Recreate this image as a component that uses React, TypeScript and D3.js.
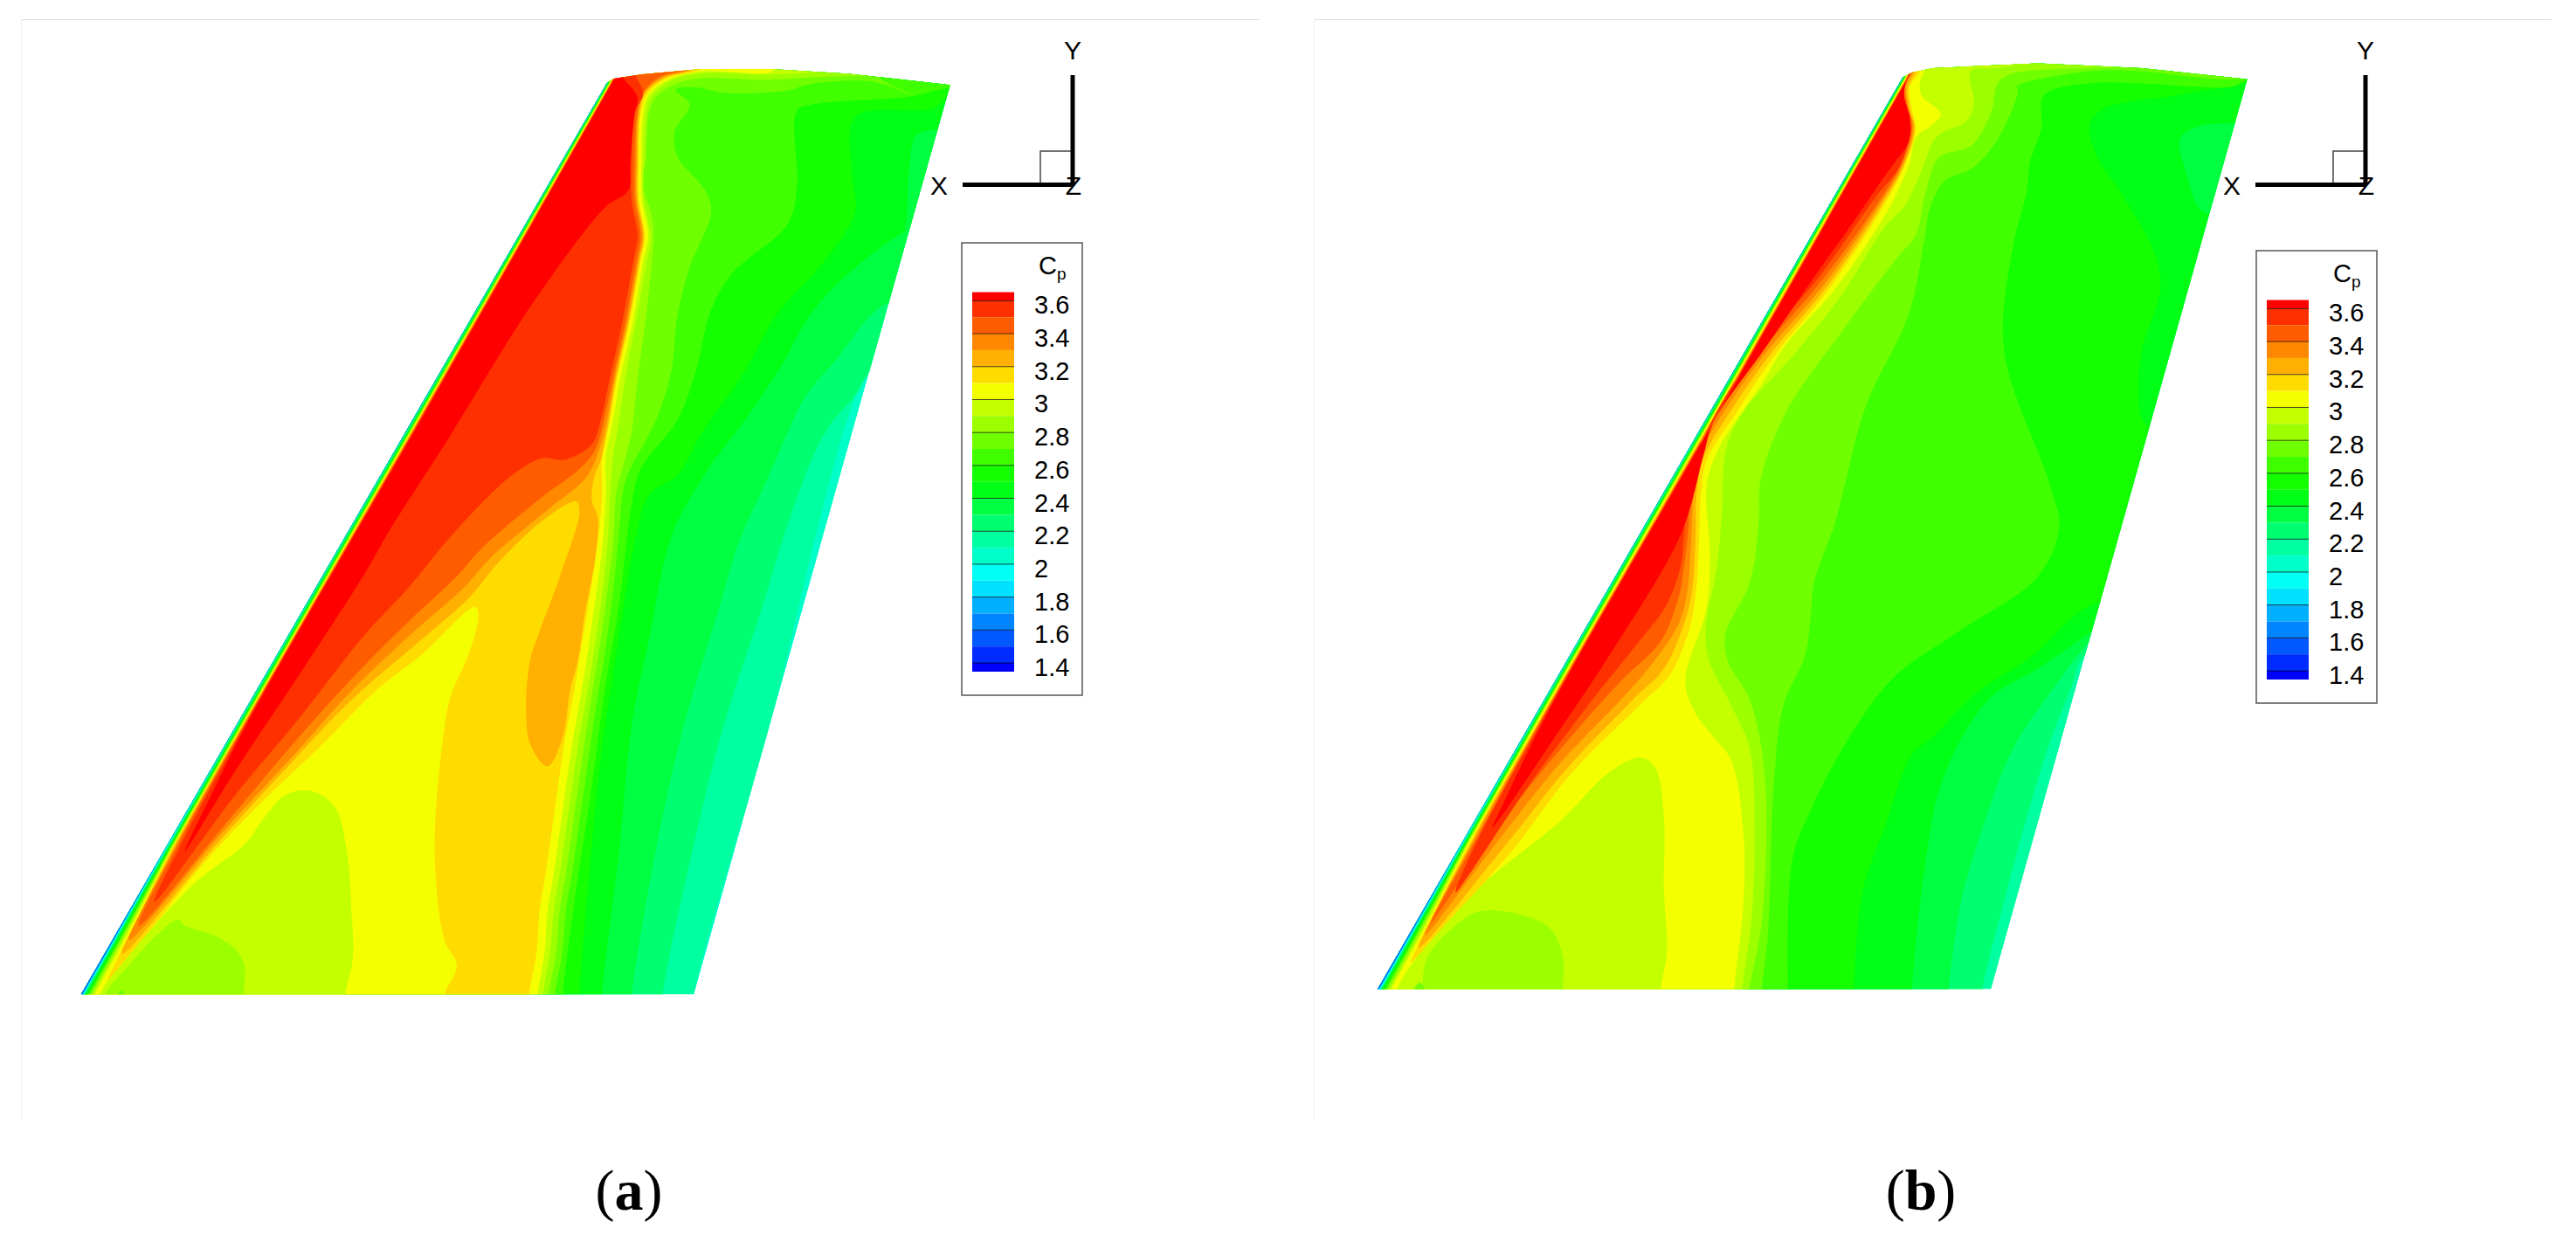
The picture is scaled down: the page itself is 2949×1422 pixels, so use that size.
import React from 'react'
import * as d3 from 'd3'

type Pt = [number, number]

// Cp legend, top to bottom
const legendLevels = [3.6, 3.5, 3.4, 3.3, 3.2, 3.1, 3.0, 2.9, 2.8, 2.7, 2.6, 2.5, 2.4, 2.3, 2.2, 2.1, 2.0, 1.9, 1.8, 1.7, 1.6, 1.5, 1.4]
const legendLabels = ['3.6', '3.4', '3.2', '3', '2.8', '2.6', '2.4', '2.2', '2', '1.8', '1.6', '1.4']
const bandColors = ['#ff0000', '#ff3000', '#ff5c00', '#ff8800', '#ffb000', '#ffdc00', '#f4ff00', '#c4ff00', '#9cff00', '#70ff00', '#40ff00', '#14ff00',
  '#00ff14', '#00ff40', '#00ff70', '#00ffa0', '#00ffc8', '#00fff4', '#00e0ff', '#00b0ff', '#0084ff', '#0058ff', '#002cff', '#0000ff']

const cpColor = d3.scaleThreshold<number, string>()
  .domain([...legendLevels].reverse())
  .range([...bandColors].reverse())

// Wing outlines, surface coordinates (0..1568 on both axes)
const wingA: Pt[] = [[47, 1537], [905, 50], [915, 43], [960, 36], [1060, 27], [1170, 27], [1300, 35], [1465, 53], [1047, 1537]]
const wingB: Pt[] = [[53, 1543], [910, 55], [925, 47], [960, 40], [1130, 32], [1300, 40], [1472, 58], [1054, 1543]]

const far: Pt[] = [[1700, -100], [-100, -100], [-100, 1700], [600, 1700]]
const up = (p: Pt[]): Pt[] => [...p, ...far]

// Panel (a): contours Cp = level, region on the leading edge side
const a21 = up([[1047, 1560], [1047, 1537], [1170, 1100], [1200, 980], [1245, 790], [1300, 590], [1330, 520], [1400, 450]])
const a22 = up([[996, 1560], [996, 1537], [1045, 1300], [1095, 1100], [1160, 900], [1190, 800], [1225, 700], [1250, 640], [1275, 600], [1310, 560], [1335, 520], [1400, 470]])
const a23 = up([[946, 1560], [946, 1537], [985, 1300], [1030, 1100], [1090, 900], [1120, 800], [1165, 700], [1200, 620], [1230, 560], [1280, 500], [1345, 420], [1420, 380]])
const a24 = up([[897, 1560], [897, 1537], [925, 1300], [945, 1100], [975, 950], [1010, 790], [1070, 680], [1130, 600], [1190, 510], [1235, 430], [1300, 360], [1395, 290], [1500, 250]])
const aTipPocket: Pt[] = [[1445, 125], [1410, 135], [1400, 170], [1395, 260], [1395, 300], [1500, 300], [1500, 125]]
const a25 = up([[860, 1560], [860, 1537], [875, 1350], [895, 1150], [925, 950], [950, 800], [975, 720], [1020, 690], [1060, 620], [1130, 520], [1180, 430], [1260, 340], [1310, 260], [1305, 200], [1310, 105], [1440, 90], [1475, 60], [1600, 50]])
const a26 = up([[833, 1560], [833, 1537], [850, 1400], [880, 1200], [900, 1050], [925, 900], [945, 740], [960, 680], [1020, 600], [1050, 520], [1075, 420], [1110, 360], [1200, 280], [1215, 220], [1215, 95], [1240, 85], [1400, 72], [1460, 58], [1600, 40]])
const a27 = up([[820, 1560], [820, 1537], [832, 1470], [838, 1400], [848, 1340], [865, 1220], [878, 1130], [890, 1050], [900, 990], [915, 880], [925, 780], [935, 700], [985, 600], [1010, 520], [1020, 430], [1040, 350], [1075, 260], [1065, 225], [1020, 170], [1015, 130], [1040, 85], [1017, 61], [1050, 57], [1098, 66], [1200, 62], [1235, 52], [1340, 48], [1405, 70], [1350, 40], [1500, 30]])
const a28 = up([[810, 1560], [810, 1537], [822, 1470], [828, 1400], [838, 1340], [855, 1220], [868, 1130], [880, 1050], [890, 990], [903, 900], [915, 800], [920, 720], [930, 680], [945, 620], [955, 530], [970, 420], [980, 280], [962, 210], [968, 180], [973, 100], [985, 72], [1015, 52], [1060, 42], [1170, 45], [1250, 40], [1400, 35], [1500, 20]])
const a29 = up([[801, 1560], [801, 1537], [812, 1470], [818, 1400], [828, 1340], [845, 1220], [858, 1130], [872, 1050], [882, 990], [895, 900], [906, 800], [910, 720], [915, 660], [925, 600], [935, 530], [952, 440], [970, 340], [976, 300], [965, 240], [965, 180], [969, 100], [977, 72], [1008, 47], [1060, 34], [1170, 36], [1250, 32], [1400, 20]])
const a30 = up([[792, 1560], [792, 1537], [803, 1470], [808, 1400], [818, 1340], [835, 1220], [848, 1130], [862, 1050], [872, 990], [885, 900], [898, 800], [903, 720], [903, 660], [915, 600], [927, 530], [947, 440], [964, 340], [972, 300], [962, 240], [961, 180], [964, 100], [973, 70], [1004, 45], [1060, 31], [1170, 33], [1190, 20], [1300, 10]])
const a31 = up([[778, 1560], [778, 1537], [790, 1470], [795, 1400], [805, 1340], [822, 1220], [835, 1130], [850, 1050], [860, 990], [875, 900], [890, 800], [897, 720], [897, 660], [910, 600], [922, 530], [942, 440], [960, 340], [967, 300], [957, 240], [957, 180], [960, 100], [971, 68], [1001, 43], [1055, 29], [1080, 15]])
// pockets of lower Cp downstream of the ridge
const aYellow: Pt[] = [[60, 1560], [60, 1537], [95, 1510], [250, 1320], [340, 1225], [440, 1130], [530, 1040], [600, 985], [690, 905], [695, 920], [680, 980], [650, 1050], [640, 1100], [625, 1250], [625, 1340], [640, 1450], [660, 1490], [640, 1537], [640, 1560]]
const aLime: Pt[] = [[78, 1560], [78, 1537], [120, 1480], [232, 1356], [314, 1292], [345, 1250], [380, 1212], [420, 1205], [460, 1230], [480, 1300], [488, 1400], [490, 1480], [478, 1537], [478, 1560]]
const aGreen: Pt[] = [[86, 1560], [86, 1537], [123, 1492], [171, 1440], [205, 1415], [216, 1425], [266, 1442], [300, 1465], [313, 1490], [312, 1537], [312, 1560]]
const aSpot: Pt[] = [[105, 1545], [112, 1530], [120, 1545]]
// ridge bands, root tip > shock side > wing tip > leading edge side
const a32: Pt[] = [[114, 1471], [270, 1290], [380, 1170], [490, 1055], [600, 960], [680, 890], [730, 830], [805, 760], [855, 733], [860, 750], [830, 850], [795, 945], [780, 990], [773, 1070], [780, 1130], [808, 1165], [832, 1120], [845, 1040], [858, 990], [868, 920], [885, 830], [890, 760], [880, 730], [885, 690], [895, 665], [908, 600], [920, 530], [940, 440], [958, 340], [965, 300], [955, 240], [955, 180], [958, 100], [968, 66], [998, 42], [1050, 27], [1075, 10], [928, 20], [911, 50], [597, 600], [309.6, 1100], [196.5, 1300]]
const a33: Pt[] = [[125, 1449], [280, 1270], [400, 1140], [490, 1040], [590, 945], [670, 875], [720, 820], [810, 745], [870, 695], [890, 655], [905, 600], [918, 530], [938, 440], [956, 340], [963, 300], [953, 240], [953, 180], [956, 100], [966, 66], [995, 41], [1045, 27], [1070, 10], [928.5, 20], [911.5, 50], [598, 600], [310.6, 1100], [199, 1300]]
const a34: Pt[] = [[141, 1425], [290, 1250], [400, 1120], [500, 1010], [580, 930], [660, 855], [700, 810], [800, 725], [860, 680], [885, 650], [900, 600], [915, 530], [935, 440], [953, 340], [960, 300], [950, 240], [950, 180], [954, 100], [964, 66], [990, 40], [1040, 27], [1060, 10], [929, 20], [912, 50], [599, 600], [311.6, 1100], [201, 1300]]
const a35: Pt[] = [[166, 1387], [300, 1210], [400, 1090], [510, 950], [580, 875], [650, 790], [750, 690], [800, 662], [835, 665], [880, 640], [895, 600], [910, 530], [930, 440], [950, 330], [955, 300], [945, 240], [945, 180], [950, 100], [964, 67], [952, 38], [945, 20], [929.5, 20], [912.5, 50], [600, 600], [313, 1100], [206, 1300]]
const a36: Pt[] = [[216, 1304], [300, 1170], [400, 1020], [510, 850], [550, 780], [640, 640], [770, 430], [870, 290], [905, 250], [940, 225], [943, 180], [950, 100], [955, 75], [948, 61], [931, 40], [930, 20], [913, 50], [601, 600], [315, 1100], [265, 1200]]

// Panel (b)
const b21: Pt[] = up([[1054, 1560], [1054, 1543], [1150, 1200], [1400, 300]])
const b22 = up([[1040, 1560], [1040, 1543], [1075, 1400], [1110, 1270], [1150, 1140], [1185, 1050], [1205, 1000], [1300, 950], [1500, 900]])
const b23 = up([[985, 1560], [985, 1543], [1005, 1400], [1040, 1280], [1090, 1150], [1150, 1060], [1215, 975], [1300, 900], [1500, 850]])
const b24 = up([[925, 1560], [925, 1543], [945, 1350], [975, 1200], [1050, 1070], [1130, 1020], [1210, 965], [1300, 900], [1500, 850]])
const bTipPocket: Pt[] = [[1450, 130], [1390, 135], [1362, 155], [1372, 210], [1395, 270], [1420, 280], [1480, 280], [1480, 130]]
const b25 = up([[830, 1560], [830, 1543], [845, 1380], [880, 1280], [925, 1160], [960, 1130], [1030, 1060], [1120, 1000], [1220, 915], [1400, 900], [1400, 640], [1305, 620], [1295, 560], [1300, 500], [1330, 400], [1320, 340], [1270, 250], [1225, 180], [1215, 130], [1240, 105], [1350, 85], [1440, 70], [1460, 65], [1600, 50]])
const b26 = up([[722, 1560], [722, 1543], [730, 1330], [760, 1250], [830, 1120], [900, 1030], [1000, 960], [1130, 870], [1165, 790], [1150, 720], [1075, 500], [1090, 330], [1112, 242], [1117, 195], [1136, 138], [1140, 85], [1210, 65], [1300, 65], [1380, 70], [1450, 70], [1470, 60], [1600, 40]])
const b27 = up([[680, 1560], [680, 1543], [690, 1450], [700, 1200], [715, 1080], [750, 1000], [760, 930], [765, 880], [800, 780], [815, 720], [850, 590], [920, 440], [945, 320], [955, 266], [979, 223], [1022, 204], [1064, 157], [1098, 76], [1095, 70], [1215, 45], [1300, 45], [1450, 58], [1600, 30]])
const b28 = up([[660, 1560], [660, 1543], [680, 1430], [685, 1200], [660, 1070], [625, 1010], [620, 965], [660, 880], [675, 780], [678, 710], [720, 600], [810, 470], [900, 350], [931, 313], [946, 247], [965, 190], [979, 180], [1022, 166], [1055, 109], [1064, 66], [1085, 50], [1215, 40], [1300, 38], [1500, 20]])
const b29 = up([[648, 1560], [648, 1543], [663, 1430], [668, 1280], [660, 1150], [630, 1080], [595, 1010], [588, 960], [607, 850], [615, 760], [622, 660], [650, 600], [730, 510], [810, 410], [880, 300], [912, 266], [936, 218], [960, 159], [974, 145], [1012, 128], [1026, 100], [1021, 45], [1060, 40], [1200, 25], [1500, 10]])
const b30 = up([[635, 1560], [635, 1543], [650, 1400], [650, 1290], [630, 1170], [600, 1130], [570, 1090], [555, 1040], [590, 920], [595, 830], [590, 720], [610, 660], [680, 555], [720, 490], [800, 400], [884, 275], [903, 238], [921, 195], [932, 152], [960, 131], [972, 114], [941, 85], [938, 62], [945, 45], [960, 10]])
const bLime: Pt[] = [[85, 1560], [85, 1543], [110, 1500], [215, 1380], [350, 1270], [430, 1190], [480, 1165], [505, 1180], [520, 1260], [520, 1380], [525, 1480], [515, 1543], [515, 1560]]
const bGreen: Pt[] = [[125, 1560], [125, 1543], [135, 1490], [185, 1435], [225, 1415], [330, 1440], [355, 1490], [355, 1543], [355, 1560]]
const bSpot: Pt[] = [[110, 1550], [122, 1532], [130, 1550]]
const b31: Pt[] = [[105, 1500], [170, 1430], [270, 1320], [370, 1190], [480, 1080], [530, 1030], [560, 960], [572, 900], [578, 800], [580, 740], [590, 680], [640, 600], [700, 510], [790, 400], [884, 256], [915, 195], [931, 138], [924, 104], [921, 71], [935, 50], [950, 20], [936, 20], [919, 50], [605.5, 600], [319, 1100], [206, 1300]]
const b32: Pt[] = [[120, 1475], [260, 1310], [360, 1185], [470, 1070], [520, 1020], [550, 955], [565, 900], [572, 800], [573, 740], [585, 675], [632, 595], [695, 505], [785, 398], [880, 256], [913, 195], [929, 138], [921, 104], [918, 71], [930, 48], [945, 20], [936.5, 20], [919.5, 50], [606.5, 600], [320, 1100], [208, 1300]]
const b33: Pt[] = [[130, 1455], [250, 1300], [350, 1175], [460, 1060], [510, 1000], [545, 945], [558, 895], [565, 800], [568, 740], [580, 670], [625, 590], [690, 500], [780, 395], [876, 256], [911, 195], [927, 135], [919, 104], [915, 71], [927, 47], [942, 20], [937, 20], [920, 50], [607.5, 600], [321, 1100], [210, 1300]]
const b34: Pt[] = [[140, 1435], [240, 1290], [340, 1165], [450, 1040], [515, 975], [545, 900], [552, 860], [560, 790], [563, 740], [575, 665], [620, 585], [685, 495], [775, 390], [872, 256], [908, 195], [925, 135], [917, 104], [913, 71], [924, 46], [940, 20], [937.5, 20], [920.5, 50], [608.5, 600], [322, 1100], [213, 1300]]
const b35: Pt[] = [[180, 1385], [300, 1210], [400, 1075], [480, 975], [525, 915], [548, 850], [552, 810], [560, 740], [570, 680], [615, 585], [680, 490], [770, 385], [866, 250], [903, 204], [917, 166], [923, 140], [915, 104], [911, 71], [920, 48], [938, 20], [921, 50], [609.5, 600], [324, 1100], [216, 1300]]
const b36: Pt[] = [[240, 1280], [350, 1120], [430, 1000], [548, 800], [585, 670], [600, 620], [690, 490], [780, 360], [830, 290], [884, 211], [898, 192], [917, 166], [922, 147], [921, 118], [912, 85], [916, 60], [938.5, 20], [921.5, 50], [610.5, 600], [326, 1100], [258, 1240]]

// Leading edge strip: distance from the edge of each Cp level, at these span stations
const leStations = [20, 600, 1100, 1300, 1450, 1560]
const leLevels = [3.0, 2.9, 2.8, 2.7, 2.6, 2.5, 2.4, 2.3, 2.2, 2.1, 2.0, 1.9, 1.8, 1.7, 1.6, 1.5]
const leOffsets = [
  [5, 8.5, 9.5, 11.5, 23, 33],
  [4.5, 7.8, 8.8, 10.5, 19, 23],
  [4, 7, 8, 9.5, 17, 20],
  [3.5, 6.5, 7.2, 8.5, 14, 17],
  [3, 6, 6.5, 7.7, 12, 14],
  [2.5, 5, 5.7, 7, 11, 12],
  [2, 4.5, 5, 6, 9, 10],
  [1.5, 3.5, 4, 5, 7, 8],
  [1, 2.5, 3, 4, 6, 7],
  [0.5, 1.5, 2, 3, 5, 6],
  [0, 0.5, 1, 2, 4, 5],
  [0, 0, 0, 1.2, 3, 4],
  [0, 0, 0, 0.6, 2.5, 3],
  [0, 0, 0, 0, 2, 2.5],
  [0, 0, 0, 0, 1.5, 2],
  [0, 0, 0, 0, 1, 1.5],
]

const layersA: [number, Pt[]][] = [[2.1, a21], [2.2, a22], [2.3, a23], [2.4, a24], [2.3, aTipPocket], [2.5, a25], [2.6, a26], [2.7, a27], [2.8, a28], [2.9, a29], [3.0, a30], [3.1, a31],
  [3.0, aYellow], [2.9, aLime], [2.8, aGreen], [2.7, aSpot], [3.2, a32], [3.3, a33], [3.4, a34], [3.5, a35], [3.6, a36]]
const layersB: [number, Pt[]][] = [[2.2, b22], [2.3, b23], [2.4, b24], [2.5, b25], [2.3, bTipPocket], [2.6, b26], [2.7, b27], [2.8, b28], [2.9, b29], [3.0, b30],
  [2.9, bLime], [2.8, bGreen], [2.7, bSpot], [3.1, b31], [3.2, b32], [3.3, b33], [3.4, b34], [3.5, b35], [3.6, b36]]

const smooth = d3.line().curve(d3.curveCatmullRomClosed.alpha(0.5))
const sans = '"Liberation Sans", Arial, sans-serif'

function Wing({ id, wing, layers, base, x0, y0 }: { id: string; wing: Pt[]; layers: [number, Pt[]][]; base: number; x0: number; y0: number }) {
  const x = d3.scaleLinear().domain([0, 1568]).range([x0, x0 + 1100])
  const y = d3.scaleLinear().domain([0, 1568]).range([y0, y0 + 1100])
  const place = (p: Pt[]) => p.map(([u, v]) => [x(u), y(v)] as Pt)
  // leading edge as a line through the root and tip corners
  const leX = d3.scaleLinear().domain([wing[0][1], wing[1][1]]).range([wing[0][0], wing[1][0]])
  const strip = (offs: number[]): Pt[] => [
    ...leStations.map((s, i) => [leX(s) + offs[i], s] as Pt).reverse(),
    ...leStations.map((s) => [leX(s) - 40, s] as Pt),
  ]
  return (
    <g>
      <clipPath id={id}>
        <path d={d3.line()(place(wing)) + 'Z'} />
      </clipPath>
      <g clipPath={`url(#${id})`}>
        <path d={d3.line()(place(wing)) + 'Z'} fill={cpColor(base + 0.01)} />
        {layers.map(([level, pts], i) => (
          <path key={i} d={smooth(place(pts)) || ''} fill={cpColor(level + 0.01)} />
        ))}
        {leLevels.map((level, i) => (
          <path key={level} d={d3.line()(place(strip(leOffsets[i]))) + 'Z'} fill={cpColor(level + 0.01)} />
        ))}
      </g>
    </g>
  )
}

function Triad({ x0 }: { x0: number }) {
  const ax = x0 + 1228
  return (
    <g fontFamily={sans} fontSize={30} textAnchor="middle" fill="#000">
      <rect x={ax - 37} y={173} width={37} height={39} fill="none" stroke="#444" strokeWidth={1.5} />
      <line x1={ax - 126} x2={ax} y1={211.5} y2={211.5} stroke="#000" strokeWidth={5} />
      <line x1={ax} x2={ax} y1={86} y2={212} stroke="#000" strokeWidth={5} />
      <text x={ax - 153} y={223}>X</text>
      <text x={ax} y={68}>Y</text>
      <text x={ax + 1} y={223}>Z</text>
    </g>
  )
}

function Legend({ x0, y0 }: { x0: number; y0: number }) {
  const y = d3.scaleLinear().domain([3.6, 1.4]).range([y0 + 66.4, y0 + 481])
  const top = y0 + 56.5
  const bottom = y0 + 491
  return (
    <g fontFamily={sans} fontSize={29}>
      <rect x={x0} y={y0} width={138} height={518} fill="#fff" stroke="#555" strokeWidth={1.5} />
      {bandColors.map((c, i) => {
        const t = i === 0 ? top : y(legendLevels[i - 1])
        const b = i === bandColors.length - 1 ? bottom : y(legendLevels[i])
        return <rect key={c} x={x0 + 12} width={48} y={t} height={b - t} fill={c} />
      })}
      {legendLabels.map((l) => (
        <g key={l}>
          <line x1={x0 + 12} x2={x0 + 60} y1={y(+l)} y2={y(+l)} stroke="#000" strokeOpacity={0.7} strokeWidth={1} />
          <text x={x0 + 83} y={y(+l) + 15}>{l}</text>
        </g>
      ))}
      <text x={x0 + 88} y={y0 + 36}>C<tspan fontSize={19} dy={6}>p</tspan></text>
    </g>
  )
}

export default function App() {
  return (
    <svg width={2949} height={1422} style={{ position: 'absolute', left: 0, top: 0 }}>
      <rect width={2949} height={1422} fill="#fff" />
      <path d="M24.5,1282V22.5" fill="none" stroke="#eeeeee" strokeWidth={1} />
      <path d="M24.5,22.5H1442" fill="none" stroke="#dddddd" strokeWidth={1} />
      <path d="M1504.5,1282V22.5" fill="none" stroke="#eeeeee" strokeWidth={1} />
      <path d="M1504.5,22.5H2921" fill="none" stroke="#dddddd" strokeWidth={1} />
      <Wing id="wa" wing={wingA} layers={layersA} base={2.0} x0={60} y0={60} />
      <Wing id="wb" wing={wingB} layers={layersB} base={2.1} x0={1540} y0={50} />
      <Triad x0={0} />
      <Triad x0={1480} />
      <Legend x0={1101} y0={278} />
      <Legend x0={2583} y0={287} />
      <g fontFamily='"Liberation Serif", serif' fontSize={66} textAnchor="middle" fill="#000">
        <text x={720} y={1385}>(<tspan fontWeight={700}>a</tspan>)</text>
        <text x={2199} y={1385}>(<tspan fontWeight={700}>b</tspan>)</text>
      </g>
    </svg>
  )
}
